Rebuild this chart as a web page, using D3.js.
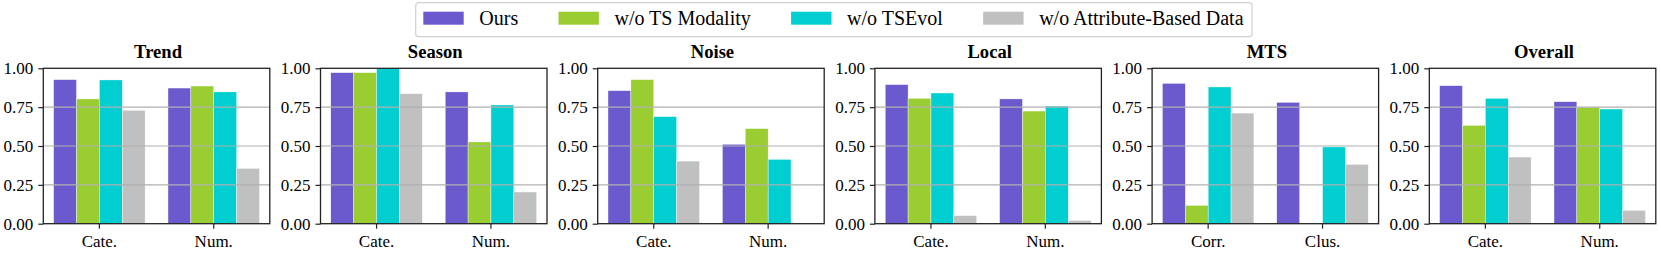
<!DOCTYPE html>
<html>
<head>
<meta charset="utf-8">
<script src="https://cdn.jsdelivr.net/npm/d3@7"></script>
<style>
    body { margin: 0; background: #fff; }
    svg { display: block; }
    svg text { font-family: 'Liberation Serif', 'Times New Roman', serif; }
</style>
</head>
<body>
<div id="chart"></div>
<script>
// Panel titles and x categories
const panelTitles = ['Trend', 'Season', 'Noise', 'Local', 'MTS', 'Overall'];
const panelCategories = [
    ['Cate.', 'Num.'],
    ['Cate.', 'Num.'],
    ['Cate.', 'Num.'],
    ['Cate.', 'Num.'],
    ['Corr.', 'Clus.'],
    ['Cate.', 'Num.']
];

// Series
const seriesNames = ['Ours', 'w/o TS Modality', 'w/o TSEvol', 'w/o Attribute-Based Data'];
const seriesColors = ['#6A5ACD', '#9ACD32', '#00CED1', '#C0C0C0'];

// Values per panel: [first category, second category]
const oursValues = [[0.927, 0.873], [0.972, 0.848], [0.856, 0.511], [0.895, 0.803], [0.903, 0.781], [0.888, 0.785]];
const noTsModalityValues = [[0.803, 0.886], [0.972, 0.526], [0.927, 0.612], [0.807, 0.725], [0.118, 0.0], [0.633, 0.749]];
const noTsEvolValues = [[0.925, 0.848], [0.998, 0.764], [0.689, 0.414], [0.841, 0.757], [0.880, 0.494], [0.807, 0.738]];
const noAttributeValues = [[0.730, 0.356], [0.837, 0.204], [0.403, 0.0], [0.052, 0.021], [0.712, 0.382], [0.429, 0.086]];

const yTicks = [0, 0.25, 0.5, 0.75, 1.0];

const allSeries = [oursValues, noTsModalityValues, noTsEvolValues, noAttributeValues];

const width = 1661;
const height = 254;

const svg = d3.select('#chart')
    .append('svg')
    .attr('width', width)
    .attr('height', height);

// Layout
const panelLeft = 43.3;
const panelStep = 277.2;
const panelWidth = 226.5;
const plotTop = 68.3;
const plotBottom = 223.7;

const y = d3.scaleLinear()
    .domain([0, 1])
    .range([plotBottom, plotTop]);

function styleAxis(axisG) {
    axisG.attr('font-family', null).attr('font-size', null);
    axisG.select('.domain').remove();
    axisG.selectAll('line').attr('stroke', '#222').attr('stroke-width', 1.2);
    axisG.selectAll('text')
        .style('font-family', "'Liberation Serif', serif")
        .style('font-size', '17px')
        .attr('fill', '#000');
}

panelTitles.forEach((title, p) => {
    const g = svg.append('g')
        .attr('transform', `translate(${panelLeft + p * panelStep}, 0)`);

    const x = d3.scaleBand()
        .domain(panelCategories[p])
        .range([0, panelWidth])
        .paddingInner(0.2)
        .paddingOuter(0.09);

    const xSub = d3.scaleBand()
        .domain(seriesNames)
        .range([0, x.bandwidth()])
        .padding(0);

    // Bars
    panelCategories[p].forEach((cat, c) => {
        const barData = seriesNames.map((name, s) => ({ name, color: seriesColors[s], value: allSeries[s][p][c] }));
        g.selectAll(null)
            .data(barData.filter(d => d.value > 0))
            .enter()
            .append('rect')
            .attr('x', d => x(cat) + xSub(d.name))
            .attr('y', d => y(d.value))
            .attr('width', xSub.bandwidth())
            .attr('height', d => plotBottom - y(d.value))
            .attr('fill', d => d.color)
            .attr('stroke', 'white')
            .attr('stroke-width', 0.4);
    });

    // Horizontal grid on top of bars
    g.selectAll('.grid')
        .data(yTicks.filter(t => t > 0 && t < 1))
        .enter()
        .append('line')
        .attr('x1', 0)
        .attr('x2', panelWidth)
        .attr('y1', d => y(d))
        .attr('y2', d => y(d))
        .attr('stroke', '#b0b0b0')
        .attr('stroke-width', 1.1);

    // Y axis
    const yAxis = g.append('g')
        .call(d3.axisLeft(y).tickValues(yTicks).tickFormat(d3.format('.2f')).tickSize(5).tickSizeOuter(0).tickPadding(5));
    styleAxis(yAxis);

    // X axis
    const xAxis = g.append('g')
        .attr('transform', `translate(0, ${plotBottom})`)
        .call(d3.axisBottom(x).tickSize(5).tickSizeOuter(0).tickPadding(6));
    styleAxis(xAxis);

    // Frame
    g.append('rect')
        .attr('x', 0)
        .attr('y', plotTop)
        .attr('width', panelWidth)
        .attr('height', plotBottom - plotTop)
        .attr('fill', 'none')
        .attr('stroke', '#222')
        .attr('stroke-width', 1.3);

    // Title
    g.append('text')
        .attr('x', panelWidth / 2 + 1.5)
        .attr('y', 58)
        .attr('text-anchor', 'middle')
        .attr('font-weight', 'bold')
        .attr('font-size', '18.6px')
        .text(title);
});

// Legend
const legend = svg.append('g');
const legendFrame = legend.append('rect');
let lx = 423.3;
seriesNames.forEach((name, i) => {
    legend.append('rect')
        .attr('x', lx)
        .attr('y', 11.7)
        .attr('width', 40.4)
        .attr('height', 13)
        .attr('fill', seriesColors[i]);
    const t = legend.append('text')
        .attr('x', lx + 56)
        .attr('y', 25.3)
        .attr('font-size', '20px')
        .text(name);
    lx = lx + 56 + t.node().getComputedTextLength() + (i < seriesNames.length - 1 ? 40.3 : 8.4);
});
legendFrame
    .attr('x', 415.7)
    .attr('y', 2.7)
    .attr('width', lx - 415.7)
    .attr('height', 34)
    .attr('rx', 3)
    .attr('fill', 'white')
    .attr('stroke', '#d0d0d0')
    .attr('stroke-width', 1.2);
</script>
</body>
</html>
